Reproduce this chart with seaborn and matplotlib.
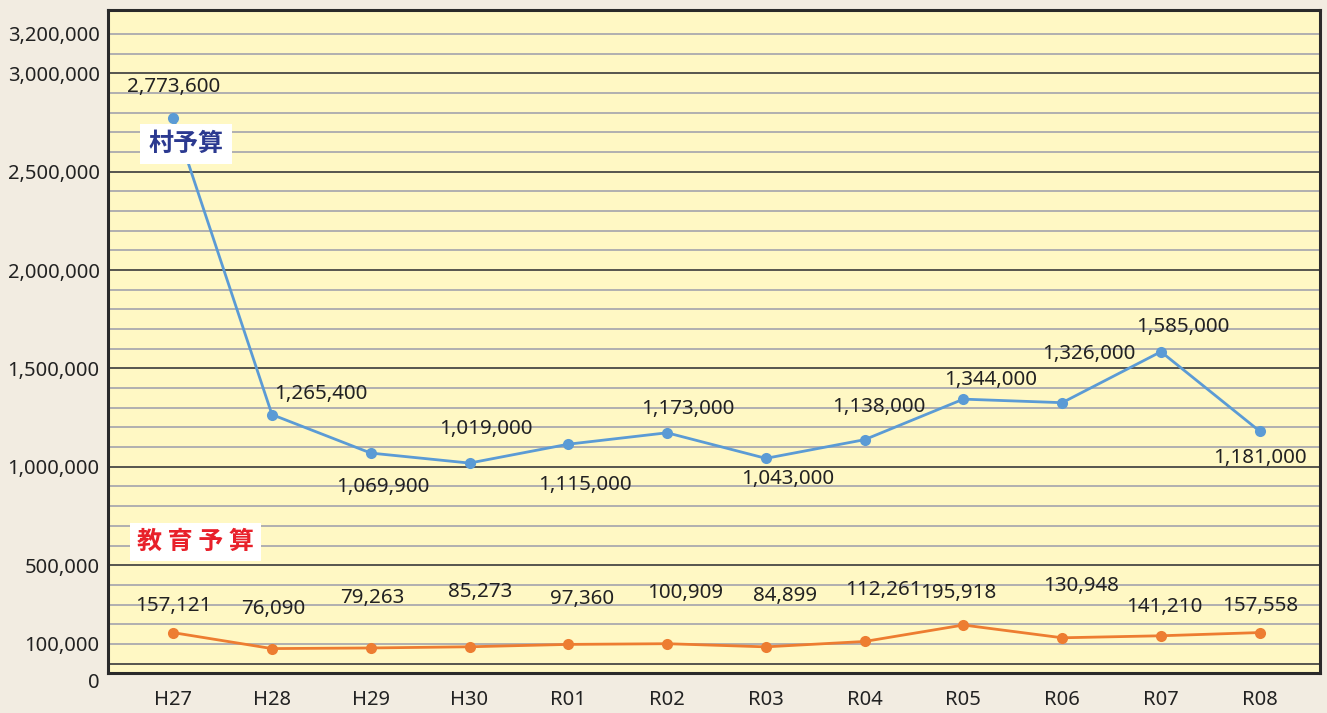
import pandas as pd
import seaborn as sns
import matplotlib.pyplot as plt
from matplotlib.transforms import ScaledTranslation

# data
years = ['H27', 'H28', 'H29', 'H30', 'R01', 'R02', 'R03', 'R04', 'R05', 'R06', 'R07', 'R08']
village = [2773600, 1265400, 1069900, 1019000, 1115000, 1173000,
           1043000, 1138000, 1344000, 1326000, 1585000, 1181000]
education = [157121, 76090, 79263, 85273, 97360, 100909,
             84899, 112261, 195918, 130948, 141210, 157558]
tick_vals = [100000, 500000, 1000000, 1500000, 2000000, 2500000, 3000000, 3200000]

# label offsets in pixels (dx, dy)
village_off = [(0, 31), (49, 21), (12, -34), (16, 34), (17, -41), (21, 24),
               (22, -21), (14, 33), (27, 19), (27, 49), (22, 25), (0, -27)]
edu_off = [(0, 27), (1, 40), (1, 50), (11, 55), (14, 45), (18, 51),
           (19, 51), (19, 51), (-5, 32), (19, 52), (3, 29), (0, 27)]

df = pd.DataFrame({
    'year': years * 2,
    'pos': list(range(len(years))) * 2,
    'value': village + education,
    'kind': ['村予算'] * len(years) + ['教育予算'] * len(years),
})

sns.set_style('white')
plt.rcParams['font.family'] = ['Noto Sans', 'Noto Sans CJK JP', 'DejaVu Sans']

fig = plt.figure(figsize=(13.27, 7.13), dpi=100, facecolor='#F2ECE1')
ax = fig.add_axes([0.0814, 0.0561, 0.9133, 0.9299])
ax.set_facecolor('#FFF8C4')

# grid lines every 100,000, darker every 500,000
for v in range(0, 3300000, 100000):
    if v % 500000 == 0:
        ax.axhline(v, color='#3a3a3a', lw=1.2, zorder=1)
    else:
        ax.axhline(v, color='#B0B0B0', lw=1.4, zorder=1)

sns.lineplot(data=df, x='pos', y='value', hue='kind',
             palette={'村予算': '#5B9BD5', '教育予算': '#ED7D31'},
             marker='o', markersize=8, markeredgewidth=0, lw=2,
             legend=False, ax=ax, zorder=3)

for i, v in enumerate(village):
    ax.annotate(f'{v:,}', (i, v), xytext=village_off[i], textcoords='offset pixels',
                ha='center', va='center', fontsize=14.8, color='#222222')
for i, v in enumerate(education):
    ax.annotate(f'{v:,}', (i, v), xytext=edu_off[i], textcoords='offset pixels',
                ha='center', va='center', fontsize=14.8, color='#222222')

ax.text(0.13, 2640000, '村予算', fontsize=18, fontweight='bold', color='#2B3990',
        family=['Noto Sans CJK JP'], ha='center', va='center',
        bbox=dict(facecolor='white', edgecolor='none', pad=6))
ax.text(0.23, 617000, '教 育 予 算', fontsize=18, fontweight='bold', color='#E8202A',
        family=['Noto Sans CJK JP'], ha='center', va='center',
        bbox=dict(facecolor='white', edgecolor='none', pad=5))

ax.set_xlim(-0.66, 11.61)
ax.set_ylim(-48000, 3322000)
ax.set_xticks(range(len(years)))
ax.set_xticklabels(years)
ax.set_yticks([-48000] + tick_vals)
ax.set_yticklabels(['0'] + [f'{v:,}' for v in tick_vals])
ax.tick_params(axis='y', length=0, pad=6, labelsize=14.5, labelcolor='#222222')
ax.tick_params(axis='x', length=0, pad=12, labelsize=14.5, labelcolor='#222222')
zero_lbl = ax.get_yticklabels()[0]
zero_lbl.set_transform(zero_lbl.get_transform() + ScaledTranslation(0, -0.07, fig.dpi_scale_trans))
ax.set_xlabel('')
ax.set_ylabel('')

for side in ['left', 'right', 'top', 'bottom']:
    ax.spines[side].set_visible(True)
    ax.spines[side].set_color('#2a2a2a')
    ax.spines[side].set_linewidth(2.2)

fig.savefig('out.png', dpi=100, facecolor=fig.get_facecolor())
